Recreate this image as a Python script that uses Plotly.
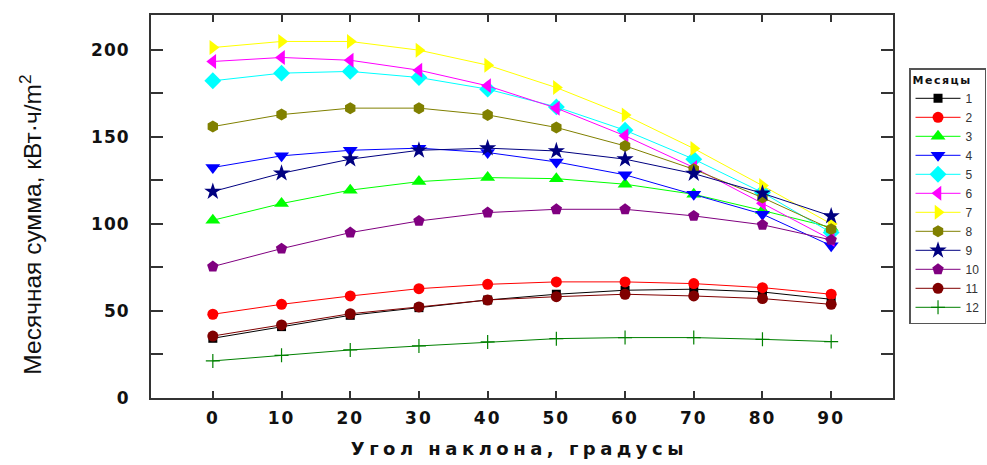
import plotly.graph_objects as go

# Tilt angle of the receiving surface, degrees
angles = [0, 10, 20, 30, 40, 50, 60, 70, 80, 90]

# Monthly insolation sums, kWh/m^2, by month
m1 = [34.3, 41.0, 47.5, 51.9, 56.3, 59.6, 61.9, 62.5, 60.9, 56.7]
m2 = [48.1, 53.8, 58.6, 62.8, 65.3, 66.7, 66.7, 65.7, 63.4, 59.6]
m3 = [102.1, 111.7, 119.4, 124.3, 126.6, 126.0, 122.8, 117.0, 107.7, 98.0]
m4 = [132.4, 139.1, 142.3, 143.5, 141.0, 135.6, 128.2, 117.0, 105.6, 87.5]
m5 = [182.2, 186.6, 187.6, 184.1, 177.4, 167.2, 153.8, 137.2, 118.0, 95.0]
m6 = [193.3, 195.6, 194.0, 188.3, 179.3, 166.5, 150.6, 132.4, 111.8, 91.0]
m7 = [201.3, 204.8, 204.8, 199.8, 191.2, 178.3, 162.5, 143.3, 122.0, 100.0]
m8 = [155.9, 162.8, 166.5, 166.5, 162.6, 155.4, 144.8, 131.4, 115.1, 97.0]
m9 = [118.6, 129.1, 137.2, 142.3, 143.5, 141.9, 137.2, 128.9, 117.6, 104.5]
m10 = [75.5, 85.8, 95.0, 101.7, 106.5, 108.4, 108.4, 104.6, 99.5, 90.8]
m11 = [35.6, 42.0, 48.4, 52.3, 56.3, 58.2, 59.6, 58.6, 57.1, 53.8]
m12 = [21.3, 24.5, 27.6, 29.9, 32.2, 34.1, 34.7, 34.7, 33.7, 32.4]

months = ["1", "2", "3", "4", "5", "6", "7", "8", "9", "10", "11", "12"]
series = [m1, m2, m3, m4, m5, m6, m7, m8, m9, m10, m11, m12]
colors = ["#000000", "#ff0000", "#00ff00", "#0000ff", "#00ffff", "#ff00ff",
          "#ffff00", "#808000", "#000080", "#800080", "#800000", "#008000"]
symbols = ["square", "circle", "triangle-up", "triangle-down", "diamond",
           "triangle-left", "triangle-right", "hexagon", "star", "pentagon",
           "circle", "cross-thin"]
sizes = [9, 11, 13, 13, 13, 13, 13, 12, 13, 12, 11, 10]

y_major = [0, 50, 100, 150, 200]
y_minor = [25, 75, 125, 175]

fig = go.Figure()
for name, vals, col, sym, sz in zip(months, series, colors, symbols, sizes):
    mline = dict(width=1.2, color=col) if sym == "cross-thin" else dict(width=0)
    fig.add_trace(go.Scatter(
        x=angles, y=vals, name=name, mode="lines+markers",
        line=dict(color=col, width=1),
        marker=dict(symbol=sym, size=sz, color=col, line=mline),
    ))

tick_font = dict(family="DejaVu Sans", size=17, color="#111111", weight="bold")

fig.update_layout(
    width=987, height=465,
    paper_bgcolor="white", plot_bgcolor="white",
    margin=dict(l=151, r=94, t=15, b=67, autoexpand=False),
    showlegend=True,
    legend=dict(
        x=1.0216, y=0.8616, xanchor="left", yanchor="top",
        bordercolor="#555555", borderwidth=1.5, bgcolor="white",
        font=dict(family="Liberation Sans", size=12, color="#333333"),
        title=dict(text="Месяцы", font=dict(family="DejaVu Sans", size=11,
                                              color="#111111", weight="bold")),
        itemwidth=45, tracegroupgap=0,
    ),
    xaxis=dict(
        range=[-9, 99], tickvals=angles, ticktext=[str(a) for a in angles],
        ticks="inside", ticklen=7, tickwidth=2, tickcolor="#333333",
        showline=True, linecolor="#333333", linewidth=2, mirror="ticks",
        showgrid=False, zeroline=False, tickfont=tick_font,
        ticklabelstandoff=4,
    ),
    yaxis=dict(
        range=[0, 220], tickvals=y_major, ticktext=[str(v) for v in y_major],
        ticks="inside", ticklen=12, tickwidth=2, tickcolor="#333333",
        minor=dict(tickvals=y_minor, ticks="inside", ticklen=12, tickwidth=2,
                   tickcolor="#333333", showgrid=False),
        showline=True, linecolor="#333333", linewidth=2, mirror="ticks",
        showgrid=False, zeroline=False, tickfont=tick_font,
        ticklabelstandoff=16,
    ),
    annotations=[
        dict(text="Угол наклона, градусы", xref="paper", yref="paper",
             x=0.497, y=-0.133, xanchor="center", yanchor="middle",
             showarrow=False,
             font=dict(family="DejaVu Sans", size=18, color="#111111", weight="bold")),
        dict(text="Месячная сумма, кВт·ч/m<sup>2</sup>", xref="paper", yref="paper",
             x=-0.162, y=0.452, xanchor="center", yanchor="middle",
             textangle=-90, showarrow=False,
             font=dict(family="Liberation Sans", size=24.5, color="#111111")),
    ],
)

spacing_js = """
var gd = document.getElementById('{plot_id}');
function ls(sel, v) { gd.querySelectorAll(sel).forEach(function (e) { e.style.letterSpacing = v; }); }
ls('.xtick text', '2px');
ls('.ytick text', '1px');
ls('.legendtitletext', '1.5px');
var ann = gd.querySelectorAll('.annotation-text');
if (ann.length) { ann[0].style.letterSpacing = '4.5px'; }
"""

fig.write_html("out.html", post_script=spacing_js)
